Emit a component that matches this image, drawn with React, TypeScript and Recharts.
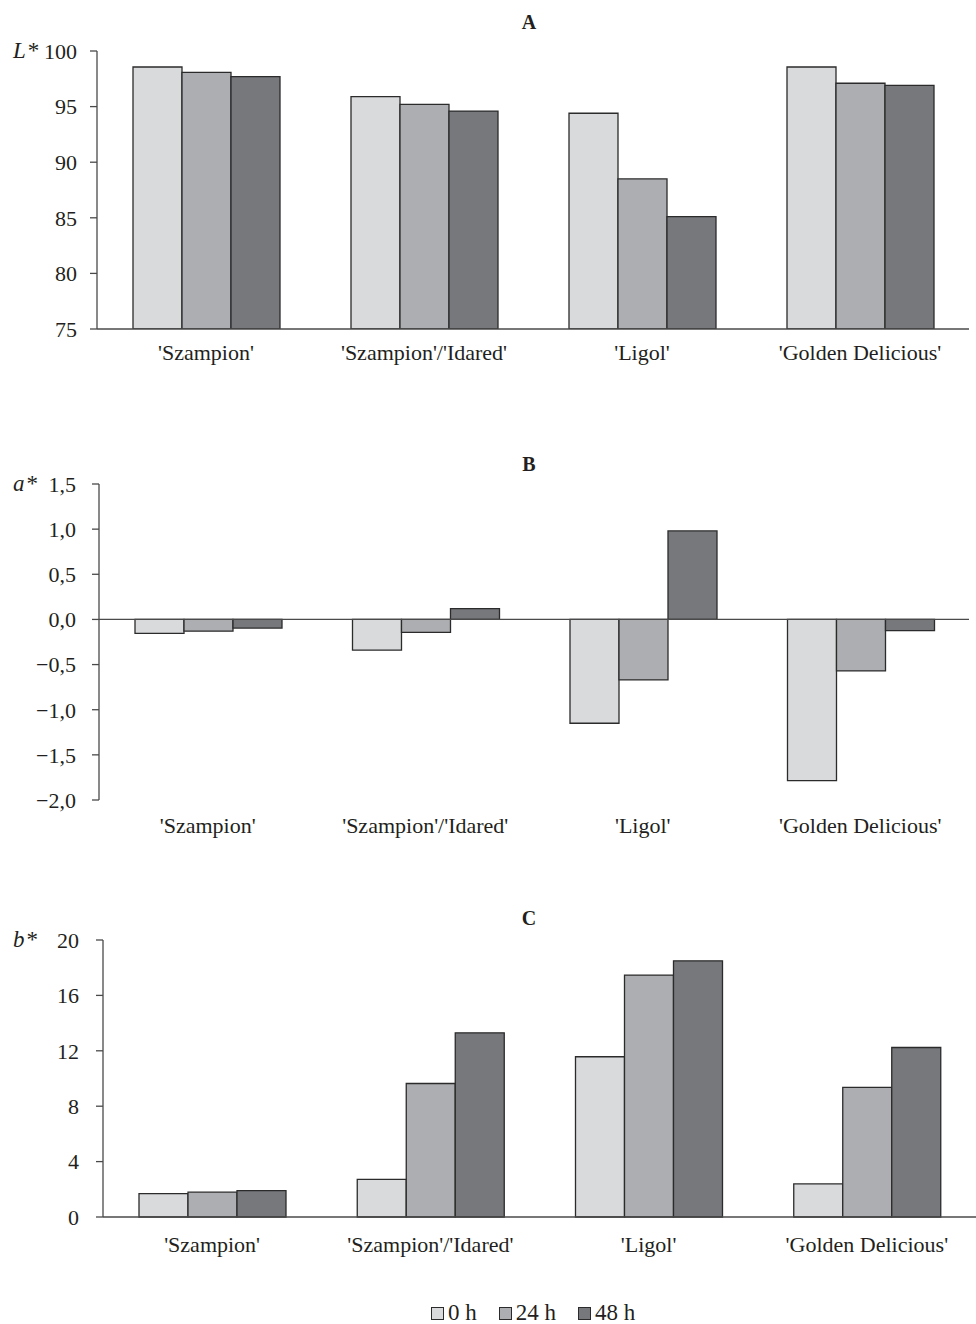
import React from 'react';
import { BarChart, Bar, XAxis, YAxis, ReferenceLine, Legend } from 'recharts';

const categories = ["'Szampion'", "'Szampion'/'Idared'", "'Ligol'", "'Golden Delicious'"];
const seriesNames = ['0 h', '24 h', '48 h'];
const seriesColors = ['#d9dadc', '#adaeb1', '#77787c'];

const lValues0 = [98.56, 95.9, 94.4, 98.56];
const lValues24 = [98.08, 95.2, 88.5, 97.1];
const lValues48 = [97.69, 94.6, 85.1, 96.9];

const aValues0 = [-0.155, -0.34, -1.15, -1.785];
const aValues24 = [-0.13, -0.144, -0.67, -0.57];
const aValues48 = [-0.096, 0.12, 0.98, -0.125];

const bValues0 = [1.69, 2.72, 11.57, 2.39];
const bValues24 = [1.79, 9.64, 17.47, 9.36];
const bValues48 = [1.91, 13.3, 18.5, 12.24];

const lTicks = [75, 80, 85, 90, 95, 100];
const aTicks = [-2, -1.5, -1, -0.5, 0, 0.5, 1, 1.5];
const bTicks = [0, 4, 8, 12, 16, 20];

const build = (v0: number[], v24: number[], v48: number[]) =>
  categories.map((c, i) => ({ name: c, s0: v0[i], s24: v24[i], s48: v48[i] }));

const dataA = build(lValues0, lValues24, lValues48);
const dataB = build(aValues0, aValues24, aValues48);
const dataC = build(bValues0, bValues24, bValues48);

const FONT = '"Liberation Serif", "DejaVu Serif", serif';
const TEXT = '#231f20';
const AXIS = '#4a4a4a';
const STROKE = '#2b2b2b';

const commaFmt = (v: number) => v.toFixed(1).replace('.', ',').replace('-', '\u2212');

const makeLabel = (sym: string, title: string, titleY: number) => (props: any) => {
  const vb = props.viewBox || { x: 0, y: 0 };
  return (
    <g>
      <text x={13} y={vb.y + 7} fontFamily={FONT} fontSize={23} fill={TEXT}>
        <tspan fontStyle="italic">{sym}</tspan>
        <tspan dx={2}>*</tspan>
      </text>
      <text x={529} y={titleY} textAnchor="middle" fontFamily={FONT} fontSize={20} fontWeight="bold" fill={TEXT}>
        {title}
      </text>
    </g>
  );
};

const tickStyle = { fontFamily: FONT, fontSize: 22, fill: TEXT };

const bars = () =>
  ['s0', 's24', 's48'].map((k, i) => (
    <Bar
      key={k}
      dataKey={k}
      name={seriesNames[i]}
      fill={seriesColors[i]}
      stroke={STROKE}
      strokeWidth={1.3}
      isAnimationActive={false}
    />
  ));

const LegendContent = () => (
  <div
    style={{
      display: 'flex',
      justifyContent: 'center',
      alignItems: 'center',
      height: 22,
      fontFamily: FONT,
      fontSize: 23,
      color: TEXT,
      paddingLeft: 90,
      boxSizing: 'border-box',
    }}
  >
    {seriesNames.map((n, i) => (
      <div key={n} style={{ display: 'flex', alignItems: 'center', marginRight: i < 2 ? 22 : 0 }}>
        <span
          style={{
            display: 'inline-block',
            width: 11,
            height: 11,
            background: seriesColors[i],
            border: `1.2px solid ${STROKE}`,
            marginRight: 4,
          }}
        />
        <span style={{ lineHeight: '22px' }}>{n}</span>
      </div>
    ))}
  </div>
);

export default function App() {
  return (
    <div style={{ position: 'absolute', left: 0, top: 0, width: 976, height: 1324, background: '#fff' }}>
      <div style={{ position: 'absolute', left: 0, top: 0 }}>
        <BarChart
          width={976}
          height={400}
          data={dataA}
          margin={{ top: 51, right: 7, bottom: 0, left: 0 }}
          barCategoryGap={36}
          barGap={0}
        >
          <XAxis
            dataKey="name"
            height={71}
            tickLine={false}
            tickSize={0}
            tickMargin={15}
            axisLine={{ stroke: AXIS, strokeWidth: 1.3 }}
            tick={tickStyle}
            interval={0}
          />
          <YAxis
            width={97}
            domain={[75, 100]}
            ticks={lTicks}
            allowDataOverflow
            tickSize={7}
            tickMargin={13}
            axisLine={{ stroke: AXIS, strokeWidth: 1.3 }}
            tickLine={{ stroke: AXIS, strokeWidth: 1.3 }}
            tick={tickStyle}
            label={{ content: makeLabel('L', 'A', 29) }}
          />
          {bars()}
        </BarChart>
      </div>
      <div style={{ position: 'absolute', left: 0, top: 400 }}>
        <BarChart
          width={976}
          height={460}
          data={dataB}
          margin={{ top: 84, right: 7, bottom: 0, left: 0 }}
          barCategoryGap={36}
          barGap={0}
        >
          <XAxis
            dataKey="name"
            height={60}
            tickLine={false}
            tickSize={0}
            tickMargin={17}
            axisLine={false}
            tick={tickStyle}
            interval={0}
          />
          <YAxis
            width={99}
            domain={[-2, 1.5]}
            ticks={aTicks}
            tickFormatter={commaFmt}
            tickSize={7}
            tickMargin={16}
            axisLine={{ stroke: AXIS, strokeWidth: 1.3 }}
            tickLine={{ stroke: AXIS, strokeWidth: 1.3 }}
            tick={tickStyle}
            label={{ content: makeLabel('a', 'B', 71) }}
          />
          <ReferenceLine y={0} stroke={AXIS} strokeWidth={1.3} />
          {bars()}
        </BarChart>
      </div>
      <div style={{ position: 'absolute', left: 0, top: 860 }}>
        <BarChart
          width={976}
          height={464}
          data={dataC}
          margin={{ top: 80, right: 0, bottom: 0, left: 0 }}
          barCategoryGap={36}
          barGap={0}
        >
          <XAxis
            dataKey="name"
            height={85}
            tickLine={false}
            tickSize={0}
            tickMargin={19}
            axisLine={{ stroke: AXIS, strokeWidth: 1.3 }}
            tick={tickStyle}
            interval={0}
          />
          <YAxis
            width={103}
            domain={[0, 20]}
            ticks={bTicks}
            tickSize={7}
            tickMargin={17}
            axisLine={{ stroke: AXIS, strokeWidth: 1.3 }}
            tickLine={{ stroke: AXIS, strokeWidth: 1.3 }}
            tick={tickStyle}
            label={{ content: makeLabel('b', 'C', 65) }}
          />
          <Legend verticalAlign="bottom" height={22} content={<LegendContent />} />
          {bars()}
        </BarChart>
      </div>
    </div>
  );
}
